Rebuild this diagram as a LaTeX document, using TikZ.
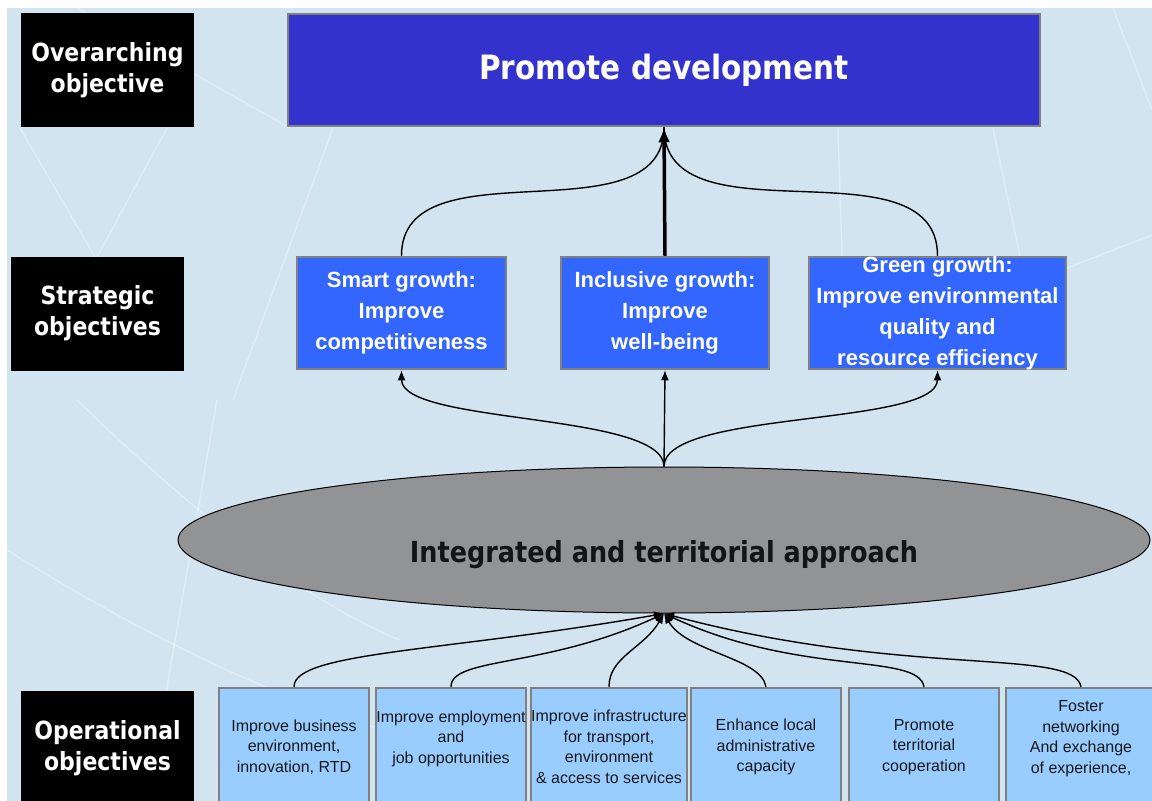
\documentclass[tikz,border=0pt]{standalone}
\usepackage{fontspec}
\setmainfont{Liberation Sans}
\newfontfamily\condsans{DejaVu Sans}[FakeStretch=0.88]
\usetikzlibrary{arrows.meta,shapes.geometric}

\definecolor{bgblue}{RGB}{210,228,240}
\definecolor{topblue}{RGB}{52,50,204}
\definecolor{midblue}{RGB}{51,102,255}
\definecolor{lowblue}{RGB}{153,204,255}
\definecolor{frame}{RGB}{128,128,128}
\definecolor{discgray}{RGB}{145,147,149}

\begin{document}
\begin{tikzpicture}[>={Latex[length=10pt,width=8pt]}, x=1pt, y=1pt]

\tikzstyle{lvl}=[fill=black, text=white, minimum width=173pt, minimum height=114pt, align=center, font=\condsans\bfseries\fontsize{25}{31}\selectfont]
\tikzstyle{goal}=[fill=topblue, draw=frame, line width=2.5pt, minimum width=752pt, minimum height=112pt, text=white, font=\condsans\bfseries\fontsize{33.5}{40}\selectfont]
\tikzstyle{strat}=[fill=midblue, draw=frame, line width=2.5pt, minimum width=209pt, minimum height=112pt, inner sep=0pt, align=center, text=white, font=\bfseries\fontsize{22}{31}\selectfont]
\tikzstyle{disc}=[ellipse, fill=discgray, draw=black, line width=1pt, minimum width=972pt, minimum height=146pt, inner sep=0pt, text height=44pt, text depth=0pt, text=black!92, font=\condsans\bfseries\fontsize{29}{34}\selectfont]
\tikzstyle{opbox}=[fill=lowblue, draw=frame, line width=2.5pt, minimum width=150pt, minimum height=118pt, inner sep=0pt, align=center, text=black!90, font=\fontsize{16}{20.5}\selectfont]
\tikzstyle{link}=[line width=1.4pt]
\tikzstyle{globe}=[white, opacity=0.35, line width=1.5pt]

\useasboundingbox (0,0) rectangle (1152,-801);

% --- background ---
\fill[white] (0,0) rectangle (1152,-801);
\fill[bgblue] (7,-8) rectangle (1152,-801);
\draw[globe] (77,-8) -- (290,-128);
\draw[globe] (20,-128) -- (95,-257);
\draw[globe] (167,-128) -- (97,-257);
\draw[globe] (333,-128) -- (233,-400);
\draw[globe] (838,-128) -- (842,-257);
\draw[globe] (993,-128) -- (1020,-257);
\draw[globe] (1113,-8) -- (1152,-110);
\draw[globe] (1067,-268) -- (1152,-235);
\draw[globe] (217,-400) -- (147,-801);
\draw[globe] (77,-400) .. controls (180,-500) and (300,-600) .. (400,-640);
\draw[globe] (7,-550) .. controls (150,-640) and (280,-700) .. (400,-735);

% --- left column: levels ---
\node[lvl] (ov) at (107.5,-70) {Overarching\\objective};
\node[lvl] (st) at (97.5,-313.5) {Strategic\\objectives};
\node[lvl] (op) at (107.5,-748) {Operational\\objectives};

% --- top: overarching objective ---
\node[goal] (dev) at (664,-70) {Promote development};

% --- middle: strategic objectives ---
\node[strat] (smart) at (401.5,-313) {Smart growth:\\Improve\\competitiveness};
\node[strat, minimum width=208pt] (incl) at (665,-313) {Inclusive growth:\\Improve\\well-being};
\node[strat, minimum width=257pt, inner ysep=-4pt] (green) at (937.5,-313) {Green growth:\\Improve environmental\\quality and\\resource efficiency};

% --- approach ---
\node[disc] (ita) at (664,-540) {Integrated and territorial approach\hspace{16pt}};

% --- bottom: operational objectives ---
\node[opbox] (op1) at (294,-747) {Improve business\\environment,\\innovation, RTD};
\node[opbox] (op2) at (451,-747) {Improve employment\\and\\job opportunities\\~};
\node[opbox, minimum width=152pt] (op3) at (609,-747) {Improve infrastructure\\for transport,\\environment\\\& access to services};
\node[opbox] (op4) at (766,-747) {Enhance local\\administrative\\capacity};
\node[opbox] (op5) at (924,-747) {Promote\\territorial\\cooperation};
\node[opbox] (op6) at (1081,-747) {Foster\\networking\\And exchange\\of experience,\\~};

% --- arrows up to the overarching objective ---
\draw[link] (smart.north) to[out=90,in=-90] (dev.south);
\draw[link] (green.north) to[out=90,in=-90] (dev.south);
\draw[-{Latex[length=15pt,width=12pt]}, line width=3.5pt] (incl.north) -- (dev.south);

% --- arrows from the approach ---
\draw[->, link] (ita.north) -- (incl.south);
\draw[->, link] (ita.north) to[out=90,in=-90,looseness=0.5] (smart.south);
\draw[->, link] (ita.north) to[out=90,in=-90,looseness=0.5] (green.south);

% --- operational objectives feed the approach ---
\coordinate (hub) at (ita.south);
\draw[->, link] (op1.north) .. controls +(90:35) and +(190:220) .. (hub);
\draw[->, link] (op2.north) .. controls +(90:30) and +(205:130) .. (hub);
\draw[->, link] (op3.north) .. controls +(90:30) and +(240:40) .. (hub);
\draw[->, link] (op4.north) .. controls +(100:30) and +(300:45) .. (hub);
\draw[->, link] (op5.north) .. controls +(100:35) and +(335:150) .. (hub);
\draw[->, link] (op6.north) .. controls +(100:40) and +(345:250) .. (hub);

\end{tikzpicture}
\end{document}
